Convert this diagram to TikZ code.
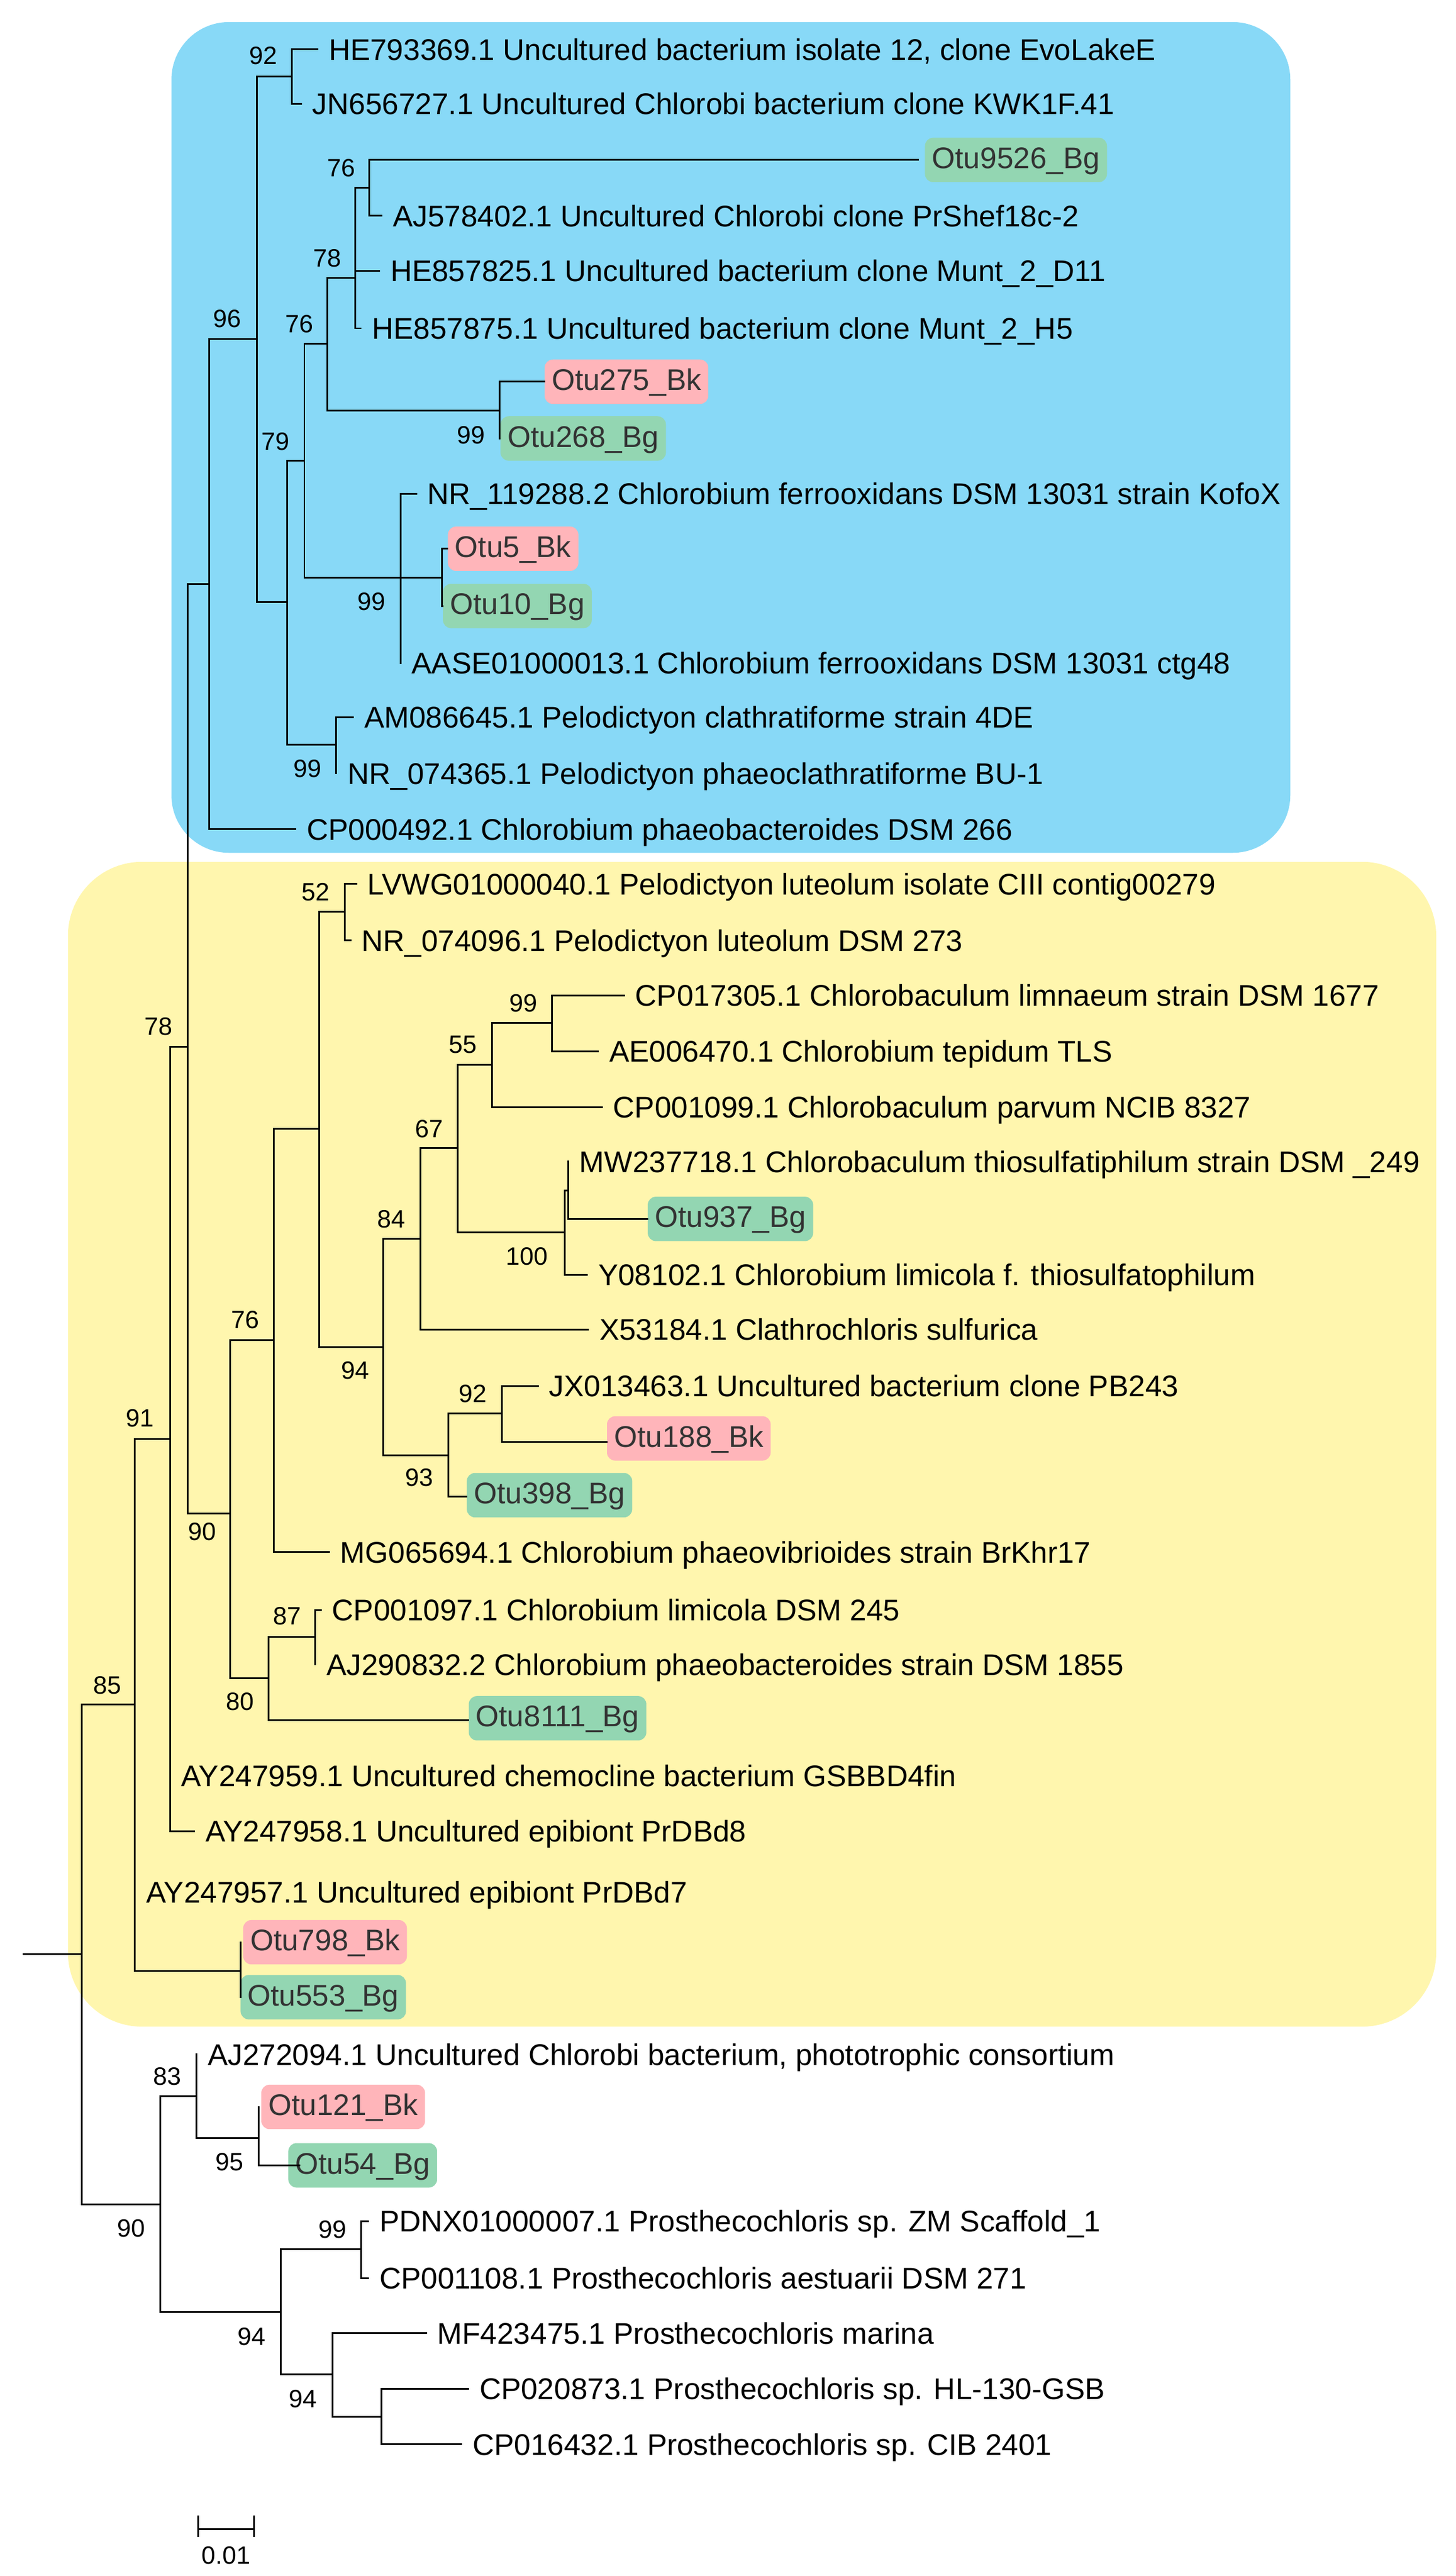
\documentclass[tikz,border=0pt]{standalone}
\usepackage{fontspec}
\setmainfont{Liberation Sans}
\usepackage{xcolor}
\usetikzlibrary{positioning}

\definecolor{cladeblue}{HTML}{88D9F7}
\definecolor{cladeyellow}{HTML}{FFF6AE}
\definecolor{otupink}{HTML}{FFB5BA}
\definecolor{otugreen}{HTML}{93D6B2}
\definecolor{otutext}{HTML}{333333}

\begin{document}
\begin{tikzpicture}[
    x=0.03cm, y=-0.03cm,
    branch/.style={line width=0.9pt, line cap=rect},
    clade/.style={rounded corners=1.05cm},
    leaf/.style={anchor=base west, inner sep=0pt, xshift=0.2cm, yshift=-0.195cm, font=\fontsize{15.5}{18}\selectfont},
    otu/.style={anchor=west, rounded corners=0.15cm, inner xsep=0.13cm, inner ysep=0.17cm,
        text height=0.39cm, text depth=0.08cm, text=otutext, font=\fontsize{15.5}{18}\selectfont},
    bk/.style={otu, fill=otupink},
    bg/.style={otu, fill=otugreen},
    boot/.style={inner sep=0pt, font=\fontsize{13}{15}\selectfont}
]
    \useasboundingbox (0,0) rectangle (885,1565.6);

    % Clade backgrounds
    \fill[cladeblue, clade] (104.2,13.4) rectangle (784.3,518.3);
    \fill[cladeyellow, rounded corners=1.35cm] (41.3,523.8) rectangle (873,1231.7);

    % Internal nodes
    \coordinate (root) at (14.2,1187.7);
    \coordinate (nroot) at (49.7,1187.7);
    \coordinate (n85) at (82,1036);
    \coordinate (nB) at (103.3,874.5);
    \coordinate (nA) at (114,636);
    \coordinate (n96) at (127,355);
    \coordinate (nS) at (156,206);
    \coordinate (n92) at (177.3,46.4);
    \coordinate (n79) at (174.4,366);
    \coordinate (nAM) at (204.4,452.6);
    \coordinate (n76b) at (185,280);
    \coordinate (nQ) at (199,209);
    \coordinate (n78) at (215.8,169);
    \coordinate (n76a) at (224.3,114);
    \coordinate (nOtu275) at (303.8,249.6);
    \coordinate (nFerro) at (243.4,351);
    \coordinate (nOtu5) at (268.6,351);
    \coordinate (nC) at (140,920);
    \coordinate (nD) at (166.4,814.6);
    \coordinate (nE) at (194,686);
    \coordinate (n52) at (209.7,554);
    \coordinate (nF) at (233,818.7);
    \coordinate (nG) at (255.7,753);
    \coordinate (nH) at (278.3,697.7);
    \coordinate (nI) at (299,647);
    \coordinate (nJ) at (335.4,621.6);
    \coordinate (nK) at (343.3,749);
    \coordinate (nL) at (345.4,723.4);
    \coordinate (nM) at (272.7,884.5);
    \coordinate (nN) at (305.1,859);
    \coordinate (nO) at (163.3,1020);
    \coordinate (nP) at (191.7,994.7);
    \coordinate (nR) at (146.4,1197.8);
    \coordinate (n90) at (97.5,1339.6);
    \coordinate (n83) at (119.5,1274);
    \coordinate (nT) at (157.3,1299.3);
    \coordinate (nU) at (170.6,1405);
    \coordinate (nV) at (219.6,1367);
    \coordinate (nW) at (202,1443);
    \coordinate (nX) at (231.8,1468.7);

    % Leaf tips
    \coordinate (tHE793369) at (193,30);
    \coordinate (tJN656727) at (183,63);
    \coordinate (tOtu9526) at (558,97.2);
    \coordinate (tAJ578402) at (232,131.2);
    \coordinate (tHE857825) at (230.5,164.7);
    \coordinate (tHE857875) at (219.3,199.5);
    \coordinate (tOtu275) at (330.8,232);
    \coordinate (tOtu268) at (303.8,266.5);
    \coordinate (tNR119288) at (253,300);
    \coordinate (tOtu5) at (272,333.5);
    \coordinate (tOtu10) at (269,368.3);
    \coordinate (tAASE) at (243.4,403);
    \coordinate (tAM086645) at (214.6,436);
    \coordinate (tNR074365) at (204.4,470);
    \coordinate (tCP000492) at (179.6,504);
    \coordinate (tLVWG) at (216.5,537.2);
    \coordinate (tNR074096) at (213,571.5);
    \coordinate (tCP017305) at (379.3,605);
    \coordinate (tAE006470) at (363.5,639);
    \coordinate (tCP001099) at (365.9,673);
    \coordinate (tMW237718) at (345.4,706);
    \coordinate (tOtu937) at (393.5,740.8);
    \coordinate (tY08102) at (356.8,774.8);
    \coordinate (tX53184) at (357.5,808);
    \coordinate (tJX013463) at (326.9,842.4);
    \coordinate (tOtu188) at (368.7,876.3);
    \coordinate (tOtu398) at (283.5,909.5);
    \coordinate (tMG065694) at (200,943.3);
    \coordinate (tCP001097) at (195,978.5);
    \coordinate (tAJ290832) at (191.7,1011.6);
    \coordinate (tOtu8111) at (284.7,1045.5);
    \coordinate (tAY247959) at (103.3,1079.3);
    \coordinate (tAY247958) at (118,1113);
    \coordinate (tAY247957) at (82,1150);
    \coordinate (tOtu798) at (146.4,1180.4);
    \coordinate (tOtu553) at (146.4,1213.8);
    \coordinate (tAJ272094) at (119.5,1248.6);
    \coordinate (tOtu121) at (157.3,1280.5);
    \coordinate (tOtu54) at (182,1316);
    \coordinate (tPDNX) at (223.8,1350);
    \coordinate (tCP001108) at (223.8,1384.5);
    \coordinate (tMF423475) at (259,1418);
    \coordinate (tCP020873) at (284.6,1451.7);
    \coordinate (tCP016432) at (280.5,1485.6);

    % OTU boxes
    \node[bg] (otu9526) at (562,97.2) {Otu9526\_Bg};
    \node[bk] (otu275) at (330.8,232) {Otu275\_Bk};
    \node[bg] (otu268) at (304,266.5) {Otu268\_Bg};
    \node[bk] (otu5) at (272,333.5) {Otu5\_Bk};
    \node[bg] (otu10) at (269,368.3) {Otu10\_Bg};
    \node[bg] (otu937) at (393.5,740.8) {Otu937\_Bg};
    \node[bk] (otu188) at (368.7,874.2) {Otu188\_Bk};
    \node[bg] (otu398) at (283.5,908.7) {Otu398\_Bg};
    \node[bg] (otu8111) at (284.7,1044.3) {Otu8111\_Bg};
    \node[bk] (otu798) at (147.6,1180.4) {Otu798\_Bk};
    \node[bg] (otu553) at (146,1213.8) {Otu553\_Bg};
    \node[bk] (otu121) at (158.6,1280.5) {Otu121\_Bk};
    \node[bg] (otu54) at (175,1316) {Otu54\_Bg};

    % Branches
    \draw[branch] (root) -- (nroot);
    \draw[branch] (nroot) |- (n85) (nroot) |- (n90);
    \draw[branch] (n85) |- (nB) (n85) |- (tAY247957) (n85) |- (nR);
    \draw[branch] (nR) |- (tOtu798) (nR) |- (tOtu553);
    \draw[branch] (nB) |- (nA) (nB) |- (tAY247959) (nB) |- (tAY247958);
    \draw[branch] (nA) |- (n96) (nA) |- (nC);
    \draw[branch] (n96) |- (nS) (n96) |- (tCP000492);
    \draw[branch] (nS) |- (n92) (nS) |- (n79);
    \draw[branch] (n92) |- (tHE793369) (n92) |- (tJN656727);
    \draw[branch] (n79) |- (n76b) (n79) |- (nAM);
    \draw[branch] (nAM) |- (tAM086645) (nAM) |- (tNR074365);
    \draw[branch] (n76b) |- (nQ) (n76b) |- (nFerro);
    \draw[branch] (nQ) |- (n78) (nQ) |- (nOtu275);
    \draw[branch] (n78) |- (n76a) (n78) |- (tHE857825) (n78) |- (tHE857875);
    \draw[branch] (n76a) |- (tOtu9526) (n76a) |- (tAJ578402);
    \draw[branch] (nOtu275) |- (tOtu275) (nOtu275) |- (tOtu268);
    \draw[branch] (nFerro) |- (tNR119288) (nFerro) -- (nOtu5) (nFerro) |- (tAASE);
    \draw[branch] (nOtu5) |- (tOtu5) (nOtu5) |- (tOtu10);
    \draw[branch] (nC) |- (nD) (nC) |- (nO);
    \draw[branch] (nD) |- (nE) (nD) |- (tMG065694);
    \draw[branch] (nE) |- (n52) (nE) |- (nF);
    \draw[branch] (n52) |- (tLVWG) (n52) |- (tNR074096);
    \draw[branch] (nF) |- (nG) (nF) |- (nM);
    \draw[branch] (nG) |- (nH) (nG) |- (tX53184);
    \draw[branch] (nH) |- (nI) (nH) |- (nK);
    \draw[branch] (nI) |- (nJ) (nI) |- (tCP001099);
    \draw[branch] (nJ) |- (tCP017305) (nJ) |- (tAE006470);
    \draw[branch] (nK) |- (nL) (nK) |- (tY08102);
    \draw[branch] (nL) |- (tMW237718) (nL) |- (tOtu937);
    \draw[branch] (nM) |- (nN) (nM) |- (tOtu398);
    \draw[branch] (nN) |- (tJX013463) (nN) |- (tOtu188);
    \draw[branch] (nO) |- (nP) (nO) |- (tOtu8111);
    \draw[branch] (nP) |- (tCP001097) (nP) |- (tAJ290832);
    \draw[branch] (n90) |- (n83) (n90) |- (nU);
    \draw[branch] (n83) |- (tAJ272094) (n83) |- (nT);
    \draw[branch] (nT) |- (tOtu121) (nT) |- (tOtu54);
    \draw[branch] (nU) |- (nV) (nU) |- (nW);
    \draw[branch] (nV) |- (tPDNX) (nV) |- (tCP001108);
    \draw[branch] (nW) |- (tMF423475) (nW) |- (nX);
    \draw[branch] (nX) |- (tCP020873) (nX) |- (tCP016432);

    % Leaf labels
    \node[leaf] at (tHE793369) {HE793369.1 Uncultured bacterium isolate 12, clone EvoLakeE};
    \node[leaf] at (tJN656727) {JN656727.1 Uncultured Chlorobi bacterium clone KWK1F.41};
    \node[leaf] at (tAJ578402) {AJ578402.1 Uncultured Chlorobi clone PrShef18c-2};
    \node[leaf] at (tHE857825) {HE857825.1 Uncultured bacterium clone Munt\_2\_D11};
    \node[leaf] at (tHE857875) {HE857875.1 Uncultured bacterium clone Munt\_2\_H5};
    \node[leaf] at (tNR119288) {NR\_119288.2 Chlorobium ferrooxidans DSM 13031 strain KofoX};
    \node[leaf] at (tAASE) {AASE01000013.1 Chlorobium ferrooxidans DSM 13031 ctg48};
    \node[leaf] at (tAM086645) {AM086645.1 Pelodictyon clathratiforme strain 4DE};
    \node[leaf] at (tNR074365) {NR\_074365.1 Pelodictyon phaeoclathratiforme BU-1};
    \node[leaf] at (tCP000492) {CP000492.1 Chlorobium phaeobacteroides DSM 266};
    \node[leaf] at (tLVWG) {LVWG01000040.1 Pelodictyon luteolum isolate CIII contig00279};
    \node[leaf] at (tNR074096) {NR\_074096.1 Pelodictyon luteolum DSM 273};
    \node[leaf] at (tCP017305) {CP017305.1 Chlorobaculum limnaeum strain DSM 1677};
    \node[leaf] at (tAE006470) {AE006470.1 Chlorobium tepidum TLS};
    \node[leaf] at (tCP001099) {CP001099.1 Chlorobaculum parvum NCIB 8327};
    \node[leaf] at (tMW237718) {MW237718.1 Chlorobaculum thiosulfatiphilum strain DSM \_249};
    \node[leaf] at (tY08102) {Y08102.1 Chlorobium limicola f. thiosulfatophilum};
    \node[leaf] at (tX53184) {X53184.1 Clathrochloris sulfurica};
    \node[leaf] at (tJX013463) {JX013463.1 Uncultured bacterium clone PB243};
    \node[leaf] at (tMG065694) {MG065694.1 Chlorobium phaeovibrioides strain BrKhr17};
    \node[leaf] at (tCP001097) {CP001097.1 Chlorobium limicola DSM 245};
    \node[leaf] at (tAJ290832) {AJ290832.2 Chlorobium phaeobacteroides strain DSM 1855};
    \node[leaf] at (tAY247959) {AY247959.1 Uncultured chemocline bacterium GSBBD4fin};
    \node[leaf] at (tAY247958) {AY247958.1 Uncultured epibiont PrDBd8};
    \node[leaf] at (tAY247957) {AY247957.1 Uncultured epibiont PrDBd7};
    \node[leaf] at (tAJ272094) {AJ272094.1 Uncultured Chlorobi bacterium, phototrophic consortium};
    \node[leaf] at (tPDNX) {PDNX01000007.1 Prosthecochloris sp. ZM Scaffold\_1};
    \node[leaf] at (tCP001108) {CP001108.1 Prosthecochloris aestuarii DSM 271};
    \node[leaf] at (tMF423475) {MF423475.1 Prosthecochloris marina};
    \node[leaf] at (tCP020873) {CP020873.1 Prosthecochloris sp. HL-130-GSB};
    \node[leaf] at (tCP016432) {CP016432.1 Prosthecochloris sp. CIB 2401};

    % Bootstrap values
    \node[boot] at (160,34) {92};
    \node[boot] at (138,193.6) {96};
    \node[boot] at (207.6,102.2) {76};
    \node[boot] at (198.8,156.8) {78};
    \node[boot] at (182,197) {76};
    \node[boot] at (167.4,268.5) {79};
    \node[boot] at (286.2,264.5) {99};
    \node[boot] at (226,365.8) {99};
    \node[boot] at (187,467) {99};
    \node[boot] at (96.5,624) {78};
    \node[boot] at (85,862) {91};
    \node[boot] at (123,931) {90};
    \node[boot] at (149,802) {76};
    \node[boot] at (146,1034) {80};
    \node[boot] at (174.4,982) {87};
    \node[boot] at (65.2,1024.2) {85};
    \node[boot] at (192,542) {52};
    \node[boot] at (216,833) {94};
    \node[boot] at (238,741) {84};
    \node[boot] at (255,898) {93};
    \node[boot] at (261,686) {67};
    \node[boot] at (281.5,635) {55};
    \node[boot] at (318,609.8) {99};
    \node[boot] at (320.4,763.7) {100};
    \node[boot] at (287.4,847.1) {92};
    \node[boot] at (101.8,1262) {83};
    \node[boot] at (139.7,1314) {95};
    \node[boot] at (79.8,1354.3) {90};
    \node[boot] at (153,1420) {94};
    \node[boot] at (202,1355) {99};
    \node[boot] at (184,1458) {94};

    % Scale bar
    \coordinate (sbl) at (120.4,1537);
    \coordinate (sbr) at (154.3,1537);
    \draw[branch, line cap=butt] (sbl) -- (sbr);
    \draw[branch, line cap=butt] ([yshift=0.25cm]sbl) -- ([yshift=-0.15cm]sbl);
    \draw[branch, line cap=butt] ([yshift=0.25cm]sbr) -- ([yshift=-0.15cm]sbr);
    \node[boot] (sblabel) at (137.4,1553) {0.01};
\end{tikzpicture}
\end{document}
